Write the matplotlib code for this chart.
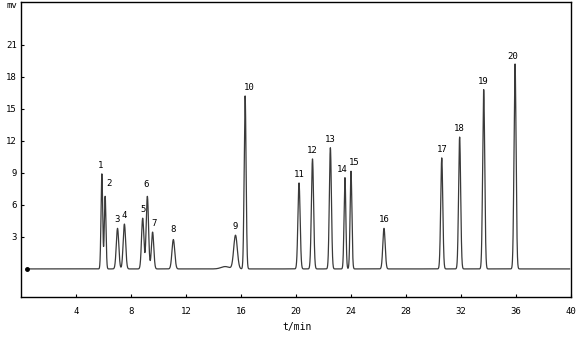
import numpy as np
import matplotlib
matplotlib.use("Agg")
import matplotlib.pyplot as plt

# Peak table: retention time (min), height (mV), width (sigma, min)
peak_ids = [str(i) for i in range(1, 21)]
ret_times = [5.88, 6.12, 7.02, 7.52, 8.85, 9.19, 9.57, 11.08, 15.60, 16.30,
             20.22, 21.20, 22.50, 23.56, 24.00, 26.40, 30.60, 31.90, 33.65, 35.93]
heights = [8.9, 6.8, 3.8, 4.2, 4.75, 6.8, 3.45, 2.75, 3.15, 16.2,
           8.05, 10.3, 11.35, 8.55, 9.15, 3.8, 10.4, 12.35, 16.8, 19.2]
sigmas = [0.06, 0.06, 0.09, 0.09, 0.085, 0.085, 0.085, 0.10, 0.13, 0.07,
          0.08, 0.08, 0.075, 0.065, 0.065, 0.085, 0.075, 0.075, 0.075, 0.075]

# Small baseline hump ahead of peak 9
hump_time, hump_height, hump_sigma = 14.85, 0.22, 0.30

x_ticks = [4, 8, 12, 16, 20, 24, 28, 32, 36, 40]
y_ticks = [3, 6, 9, 12, 15, 18, 21]

# Label nudges (pixels) for crowded peaks
label_dx = {"1": -1.5, "2": 4, "6": -1, "7": 1.5, "10": 4.5, "14": -2.5, "15": 3, "20": -2}
label_dy = {"2": 13, "6": 12, "8": 10, "20": 7}

t = np.arange(0.4, 39.9, 0.004)
signal = hump_height * np.exp(-0.5 * ((t - hump_time) / hump_sigma) ** 2)
for rt, h, s in zip(ret_times, heights, sigmas):
    signal += h * np.exp(-0.5 * ((t - rt) / s) ** 2)

dpi = 100
fig = plt.figure(figsize=(5.85, 3.46), dpi=dpi)
ax = fig.add_axes([21 / 585, 1 - 297 / 346, 550 / 585, 295 / 346])

ax.plot(t, signal, color="#3a3a3a", lw=0.9)
ax.plot([0.4], [0.0], "o", color="black", ms=2.5)

ax.set_xlim(0, 40)
ax.set_ylim(-2.63, 25.0)

mono = "DejaVu Sans Mono"
ax.set_xticks(x_ticks)
ax.set_xticklabels([str(v) for v in x_ticks], fontsize=6.5, family=mono)
ax.set_yticks(y_ticks)
ax.set_yticklabels([str(v) for v in y_ticks], fontsize=6.5, family=mono)
ax.tick_params(axis="x", direction="in", length=2.5, width=0.8, pad=7)
ax.tick_params(axis="y", direction="in", length=2.5, width=0.8, pad=3)

for sp in ax.spines.values():
    sp.set_linewidth(1.0)
    sp.set_color("black")

px = 72 / dpi
for name, rt, h in zip(peak_ids, ret_times, heights):
    dx = label_dx.get(name, 0) * px
    dy = label_dy.get(name, 8.5) * px
    ax.annotate(name, xy=(rt, h), xytext=(dx, dy), textcoords="offset points",
                ha="center", va="center", fontsize=6.5, family=mono)

fig.text(297 / 585, 1 - 327 / 346, "t/min", ha="center", va="center",
         fontsize=7, family=mono)
fig.text(12 / 585, 1 - 6 / 346, "mv", ha="center", va="center",
         fontsize=6.5, family=mono)

fig.savefig("out.png", dpi=dpi)
